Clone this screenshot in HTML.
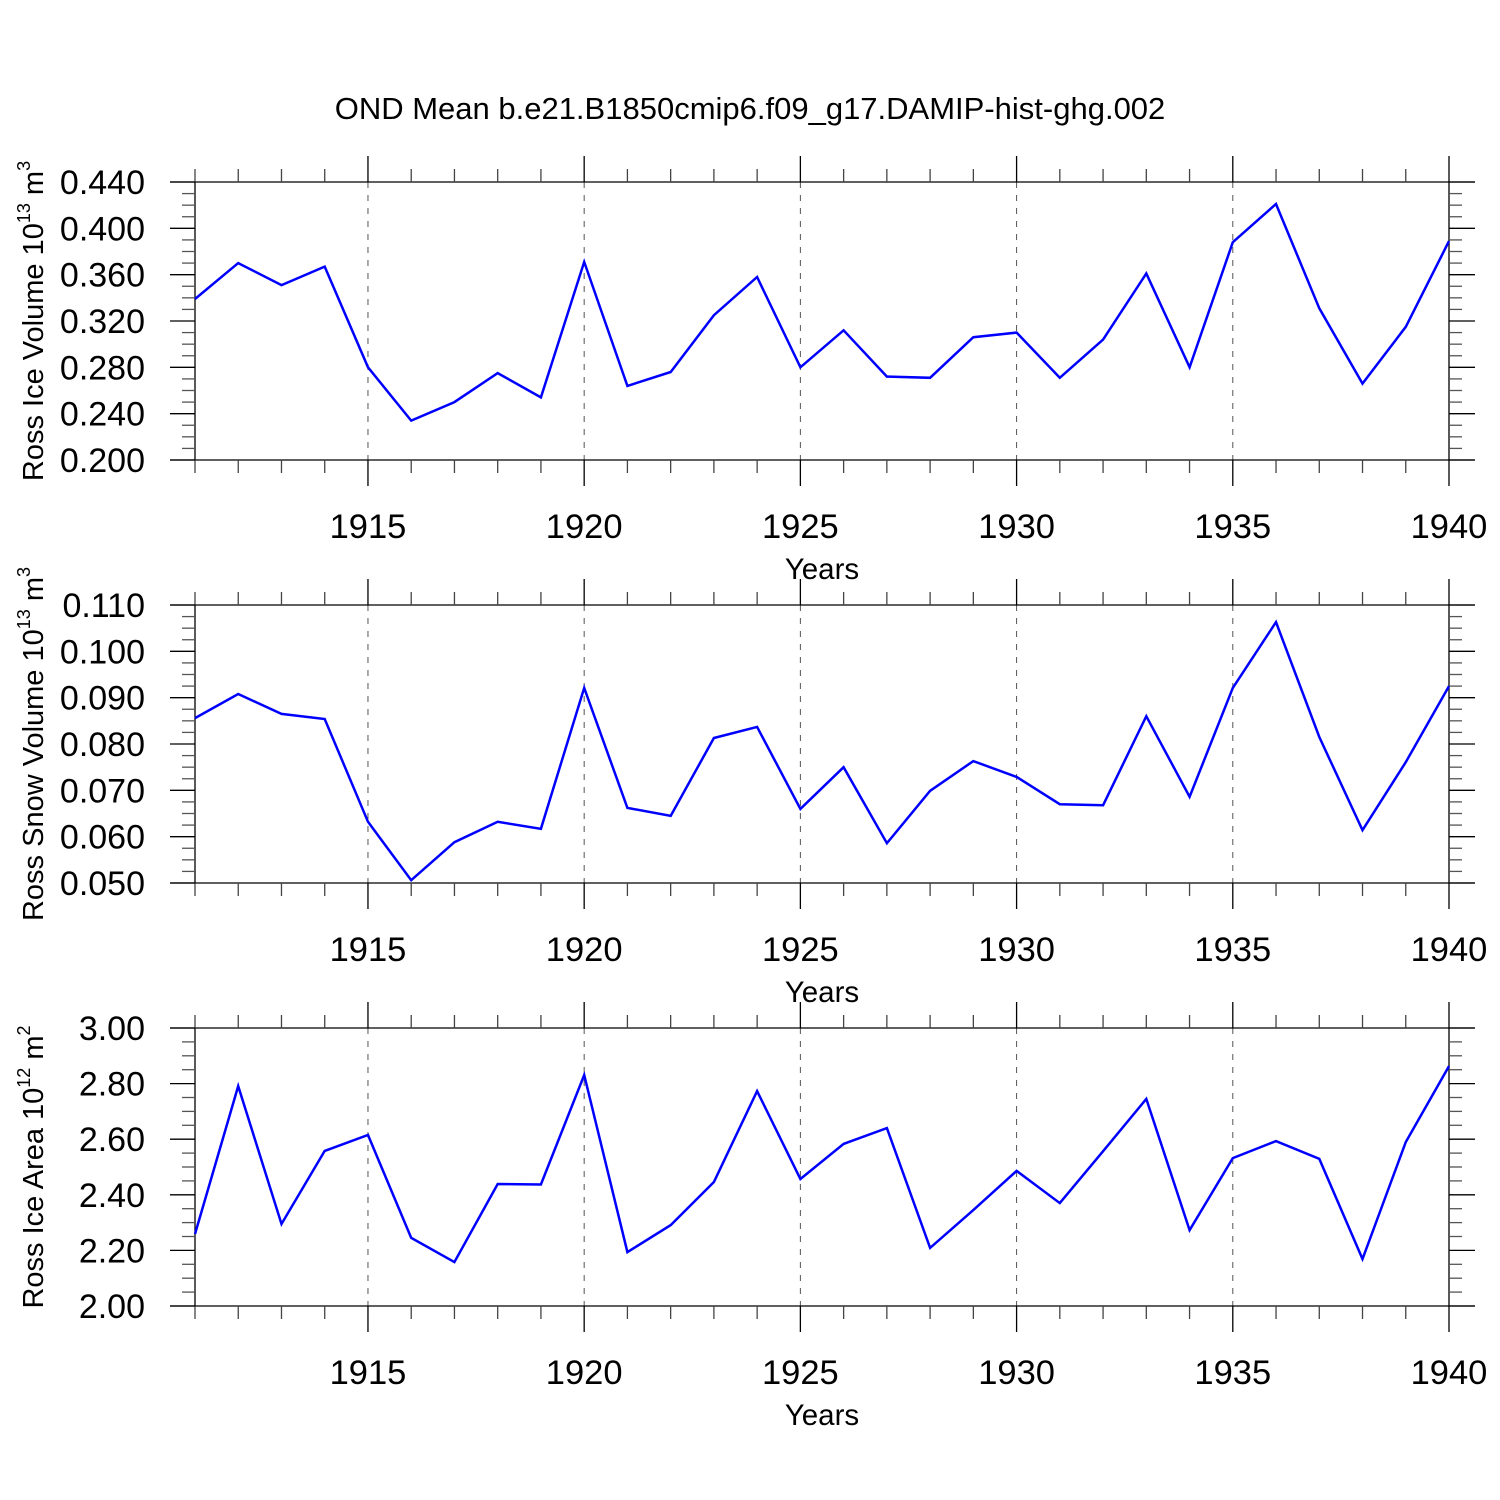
<!DOCTYPE html>
<html><head><meta charset="utf-8">
<style>
html,body{margin:0;padding:0;background:#fff;}
svg{display:block;font-family:"Liberation Sans",Arial,sans-serif;}
</style></head>
<body>
<svg id="chart" width="1500" height="1500" viewBox="0 0 1500 1500" xmlns="http://www.w3.org/2000/svg">
<rect width="1500" height="1500" fill="#fff"/>
<text x="750" y="119" font-size="31" text-anchor="middle" fill="#000">OND Mean b.e21.B1850cmip6.f09_g17.DAMIP-hist-ghg.002</text>
</svg>
<script>
const years = [1911,1912,1913,1914,1915,1916,1917,1918,1919,1920,1921,1922,1923,1924,1925,1926,1927,1928,1929,1930,1931,1932,1933,1934,1935,1936,1937,1938,1939,1940];
const iceVolume = [0.339,0.370,0.351,0.367,0.280,0.234,0.250,0.275,0.254,0.371,0.264,0.276,0.325,0.358,0.280,0.312,0.272,0.271,0.306,0.310,0.271,0.304,0.361,0.280,0.388,0.421,0.331,0.266,0.315,0.389];
const snowVolume = [0.0856,0.0908,0.0865,0.0854,0.0632,0.0506,0.0588,0.0632,0.0617,0.0921,0.0662,0.0645,0.0813,0.0837,0.0660,0.0750,0.0586,0.0699,0.0763,0.0729,0.0670,0.0668,0.0860,0.0686,0.0921,0.1063,0.0815,0.0614,0.0761,0.0925];
const iceArea = [2.259,2.791,2.295,2.558,2.615,2.245,2.158,2.439,2.437,2.831,2.194,2.291,2.446,2.773,2.457,2.583,2.640,2.209,2.345,2.486,2.370,2.557,2.745,2.273,2.532,2.593,2.529,2.169,2.590,2.863];
const xTickYears = [1915,1920,1925,1930,1935,1940];
const iceVolTicks = ["0.200","0.240","0.280","0.320","0.360","0.400","0.440"];
const snowVolTicks = ["0.050","0.060","0.070","0.080","0.090","0.100","0.110"];
const iceAreaTicks = ["2.00","2.20","2.40","2.60","2.80","3.00"];

const svg = document.getElementById('chart');
const NS = 'http://www.w3.org/2000/svg';
function mk(tag, attrs, parent){
  const e = document.createElementNS(NS, tag);
  for (const k in attrs) e.setAttribute(k, attrs[k]);
  (parent||svg).appendChild(e);
  return e;
}
const X0 = 195, X1 = 1449;
const xScale = y => X0 + (y - 1911) / (1940 - 1911) * (X1 - X0);

const panels = [
  {top:182, bot:460, data:iceVolume, ticks:iceVolTicks, name:'ice-volume', t1:'Ross Ice Volume 10', sup:'13', t2:' m', sup2:'3'},
  {top:605, bot:883, data:snowVolume, ticks:snowVolTicks, name:'snow-volume', t1:'Ross Snow Volume 10', sup:'13', t2:' m', sup2:'3'},
  {top:1028, bot:1306, data:iceArea, ticks:iceAreaTicks, name:'ice-area', t1:'Ross Ice Area 10', sup:'12', t2:' m', sup2:'2'}
];

panels.forEach(p => {
  const g = mk('g', {});
  
  
  const vmin = parseFloat(p.ticks[0]), vmax = parseFloat(p.ticks[p.ticks.length-1]);
  const yScale = v => p.bot - (v - vmin) / (vmax - vmin) * (p.bot - p.top);
  const cy = (p.top + p.bot) / 2;
  xTickYears.forEach(yr => {
    if (yr === 1940) return;
    const l = mk('line', {x1:xScale(yr), x2:xScale(yr), y1:p.top, y2:p.bot, stroke:'#555', 'stroke-width':1, 'stroke-dasharray':'6,7'}, g);
    
    
  });
  const ax = mk('g', {stroke:'#000', 'stroke-width':1.3, fill:'none'}, g);
  
  
  mk('line', {x1:170, x2:1475, y1:p.top, y2:p.top}, ax);
  mk('line', {x1:170, x2:1475, y1:p.bot, y2:p.bot}, ax);
  mk('line', {x1:X0, x2:X0, y1:p.top, y2:p.bot}, ax);
  mk('line', {x1:X1, x2:X1, y1:p.top, y2:p.bot}, ax);
  years.forEach(yr => {
    const x = xScale(yr);
    const major = yr % 5 === 0;
    const len = major ? 26 : 13;
    mk('line', {x1:x, x2:x, y1:p.top - len, y2:p.top, stroke: major?'#000':'#444'}, ax);
    mk('line', {x1:x, x2:x, y1:p.bot, y2:p.bot + len, stroke: major?'#000':'#444'}, ax);
  });
  for (let i = 0; i < p.ticks.length; i++) {
    const y = yScale(parseFloat(p.ticks[i]));
    mk('line', {x1:170, x2:X0, y1:y, y2:y}, ax);
    mk('line', {x1:X1, x2:1475, y1:y, y2:y}, ax);
    if (i < p.ticks.length - 1) {
      const step = (parseFloat(p.ticks[i+1]) - parseFloat(p.ticks[i])) / 4;
      for (let k = 1; k < 4; k++) {
        const ym = yScale(parseFloat(p.ticks[i]) + k*step);
        mk('line', {x1:182, x2:X0, y1:ym, y2:ym, stroke:'#555'}, ax);
        mk('line', {x1:X1, x2:1462, y1:ym, y2:ym, stroke:'#555'}, ax);
      }
    }
    const t = mk('text', {x:145, y:y + 12, 'font-size':34, 'text-anchor':'end', fill:'#000'}, g);
    t.textContent = p.ticks[i];
    
    
  }
  xTickYears.forEach(yr => {
    const t = mk('text', {x:xScale(yr), y:p.bot + 78, 'font-size':34.5, 'text-anchor':'middle', fill:'#000'}, g);
    t.textContent = yr;
    
    
  });
  const xt = mk('text', {x:822, y:p.bot + 119, 'font-size':29.5, 'text-anchor':'middle', fill:'#000'}, g);
  xt.textContent = 'Years';
  
  
  const yt = mk('text', {x:0, y:0, 'font-size':29, 'text-anchor':'middle', fill:'#000', transform:'translate(43,' + cy + ') rotate(-90)'}, g);
  
  
  const s1 = mk('tspan', {}, yt); s1.textContent = p.t1;
  const s2 = mk('tspan', {dy:-13, 'font-size':18}, yt); s2.textContent = p.sup;
  const s3 = mk('tspan', {dy:13}, yt); s3.textContent = p.t2;
  const s4 = mk('tspan', {dy:-13, 'font-size':18}, yt); s4.textContent = p.sup2;
  const pts = p.data.map((v, i) => xScale(years[i]).toFixed(1) + ',' + yScale(v).toFixed(1)).join(' ');
  const pl = mk('polyline', {points:pts, fill:'none', stroke:'#0000ff', 'stroke-width':2.5, 'stroke-linejoin':'miter'}, g);
  
  
});
</script>
</body></html>
